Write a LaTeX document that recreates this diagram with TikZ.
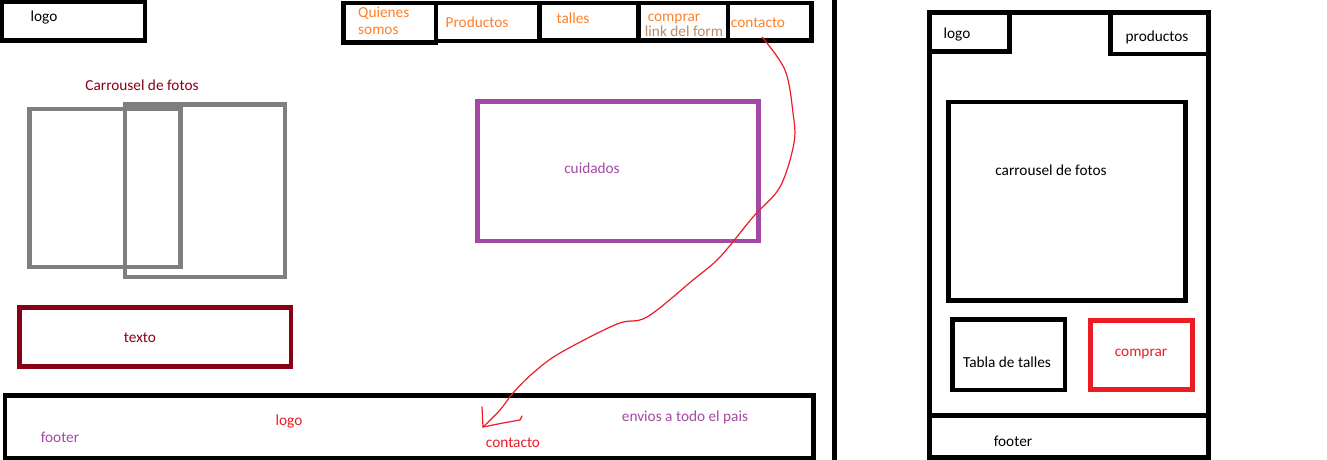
\documentclass[tikz,border=0pt]{standalone}
\usepackage{fontspec}
\setmainfont{Carlito}
\usetikzlibrary{positioning}
\definecolor{paintgray}{HTML}{7F7F7F}
\definecolor{paintwine}{HTML}{880015}
\definecolor{paintpurple}{HTML}{A349A4}
\definecolor{paintred}{HTML}{ED1C24}
\definecolor{paintorange}{HTML}{FF7F27}
\definecolor{painttan}{HTML}{B98B66}
\tikzset{
  box/.style={draw, line width=4.5pt, inner sep=0pt, outer sep=0pt},
  lbl/.style={inner sep=0pt, font=\fontsize{15.3}{17}\selectfont},
  nav/.style={lbl, text=paintorange},
  sketch/.style={draw=paintred, line width=1.2pt, line cap=round, line join=round}
}
\begin{document}
\begin{tikzpicture}[x=1pt,y=-1pt,node distance=12pt,on grid]
\useasboundingbox (0,0) rectangle (1327,460);
% desktop: cabecera
\node [box,minimum width=143pt,minimum height=38.5pt] (logoBox) at (73.5,21.25) {};
\node [lbl] (logo) at (44,18) {logo};
\node [box,minimum width=92.5pt,minimum height=39.5pt] (navQuienes) at (389.75,22.75) {};
\node [box,minimum width=103.5pt,minimum height=38pt] (navProductos) at (487.75,22) {};
\node [box,minimum width=99pt,minimum height=37.5pt] (navTalles) at (589,21.75) {};
\node [box,minimum width=89.5pt,minimum height=37.5pt] (navComprar) at (683.25,21.75) {};
\node [box,minimum width=83.5pt,minimum height=37.5pt] (navContacto) at (769.75,21.75) {};
\node [nav,align=left,anchor=west] (quienes) at (358,21) {Quienes\\somos};
\node [nav] (productos) at (477,22) {Productos};
\node [nav] (talles) at (573,18) {talles};
\node [nav] (comprar) at (674,19) {comprar};
\node [lbl,text=painttan] (linkForm) [below right=12pt and 10pt of comprar] {link del form};
\node [nav] (contacto) at (758,23) {contacto};
% desktop: cuerpo
\node [lbl,text=paintwine] (carrTitle) at (142,85) {Carrousel de fotos};
\node [box,draw=paintgray,minimum width=151pt,minimum height=158pt] (foto1) at (105,188) {};
\node [box,draw=paintgray,minimum width=160pt,minimum height=172.5pt] (foto2) at (205,190.75) {};
\node [box,draw=paintpurple,minimum width=281pt,minimum height=139.5pt] (cuidadosBox) at (618,171.25) {};
\node [lbl,text=paintpurple] (cuidados) at (592,168) {cuidados};
\node [box,draw=paintwine,minimum width=271.5pt,minimum height=59pt] (textoBox) at (155.25,337) {};
\node [lbl,text=paintwine] (texto) at (140,338) {texto};
% desktop: footer
\node [box,minimum width=808.5pt,minimum height=62.5pt] (footerBox) at (409.25,426.75) {};
\node [lbl,text=paintpurple] (footer) at (60,437) {footer};
\node [lbl,text=paintred] (footLogo) at (289,421) {logo};
\node [lbl,text=paintred] (footContacto) at (513,443) {contacto};
\node [lbl,text=paintpurple] (envios) at (685,417) {envios a todo el pais};
\draw [line width=5pt] (834.5,0) -- (834.5,460);
% mobile
\node [box,line width=5pt,minimum width=279.5pt,minimum height=445pt] (frame) at (1068.75,235) {};
\node [box,minimum width=80.5pt,minimum height=39pt] (mLogoBox) at (969.25,32) {};
\node [lbl] (mLogo) at (957,35) {logo};
\node [box,minimum width=98pt,minimum height=41.5pt] (mProdBox) at (1159.5,33.25) {};
\node [lbl] (mProd) at (1157,37) {productos};
\node [box,minimum width=237pt,minimum height=198.5pt] (mCarrBox) at (1067,201.25) {};
\node [lbl] (mCarr) at (1051,170) {carrousel de fotos};
\node [box,minimum width=112.5pt,minimum height=70.5pt] (mTablaBox) at (1008.75,354.75) {};
\node [lbl] (mTabla) at (1007,362) {Tabla de talles};
\node [box,draw=paintred,minimum width=102pt,minimum height=69pt] (mComprarBox) at (1141.5,355) {};
\node [lbl,text=paintred] (mComprar) at (1141,354) {comprar};
\node [box,line width=5pt,minimum width=279.5pt,minimum height=42pt] (mFooterBox) at (1068.75,436.5) {};
\node [lbl] (mFooter) at (1013,441) {footer};
% flecha contacto
\coordinate (cStart) at (762,37);
\coordinate (cTip) at (483,427);
\draw [sketch] plot [smooth,tension=0.55] coordinates {(cStart) (785,70) (793,113) (794,143) (780,187) (753,217) (720,257) (693,280) (647,317) (617,324) (560,353) (533,373) (513,393) (500,410) (cTip)};
\draw [sketch] (cTip) -- (482,407);
\draw [sketch] (cTip) -- (503,423) -- (520,420) -- (522,416);
\end{tikzpicture}
\end{document}
